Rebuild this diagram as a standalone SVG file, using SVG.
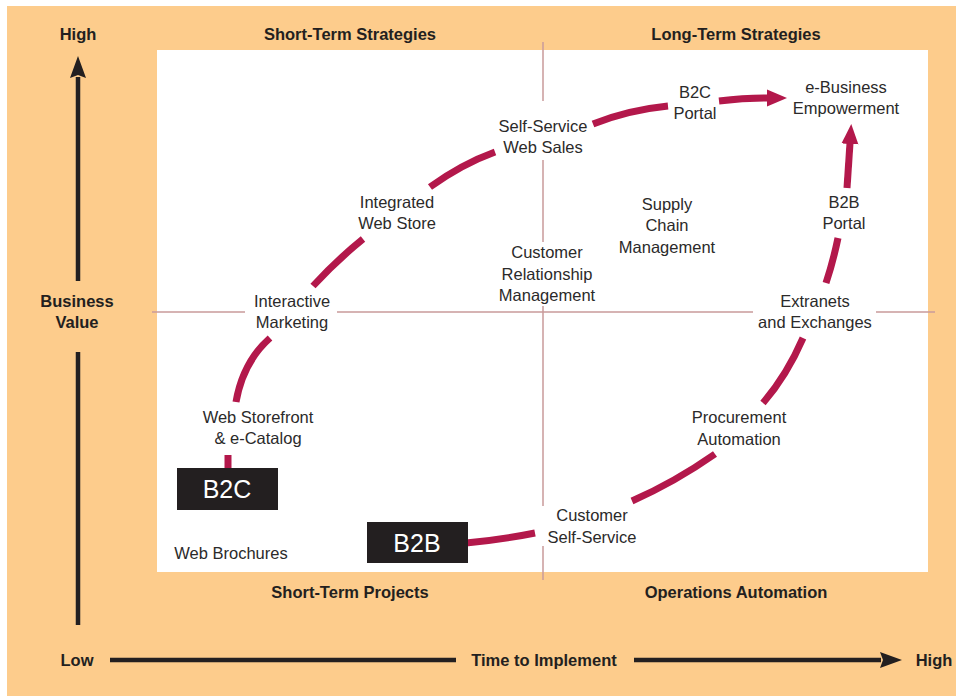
<svg xmlns="http://www.w3.org/2000/svg" width="956" height="696" viewBox="0 0 956 696">
<defs>
<style>
.h{font-family:"Liberation Sans",Arial,sans-serif;font-weight:bold;font-size:16.5px;fill:#231F20;text-anchor:middle}
.t{font-family:"Liberation Sans",Arial,sans-serif;font-size:16.5px;fill:#2B2A2A;text-anchor:middle}
.bx{fill:#231F20}
.bt{font-family:"Liberation Sans",Arial,sans-serif;font-size:25px;fill:#FFFFFF;text-anchor:middle}
.div{stroke:#C99A9A;stroke-width:1.5;fill:none}
.ax{stroke:#231F20;stroke-width:4.5;fill:none}
.c{stroke:#B3184B;stroke-width:7;fill:none}
</style>
<marker id="ra" markerUnits="userSpaceOnUse" viewBox="0 0 20 20" markerWidth="20" markerHeight="20" refX="1" refY="10" orient="auto">
<path d="M0,1.5 L20,10 L0,18.5 z" fill="#B3184B"/>
</marker>
<marker id="ka" markerUnits="userSpaceOnUse" viewBox="0 0 22 18" markerWidth="22" markerHeight="18" refX="1" refY="9" orient="auto">
<path d="M0,1 L22,9 L0,17 L3,9 z" fill="#231F20"/>
</marker>
</defs>

<g id="background">
<rect x="0" y="0" width="956" height="696" fill="#FFFFFF"/>
<rect x="7" y="6" width="949" height="690" fill="#FDCC8C"/>
<rect x="157" y="50" width="771" height="522" fill="#FFFFFF"/>
</g>

<g id="dividers">
<path class="div" d="M543,42 V101 M543,160 V242 M543,306 V506 M543,546 V580"/>
<path class="div" d="M152,312 H245 M337,312 H753 M876,312 H935"/>
</g>

<g id="axes">
<path class="ax" d="M78,281 V77" marker-end="url(#ka)"/>
<path class="ax" d="M78,352 V625"/>
<path class="ax" d="M110,660 H456"/>
<path class="ax" d="M634,660 H881" marker-end="url(#ka)"/>
<text class="h" x="78" y="40">High</text>
<text class="h" x="77" y="307">Business</text>
<text class="h" x="77" y="328">Value</text>
<text class="h" x="77" y="666">Low</text>
<text class="h" x="544" y="666">Time to Implement</text>
<text class="h" x="934" y="666">High</text>
</g>

<g id="quadrant-labels">
<text class="h" x="350" y="40">Short-Term Strategies</text>
<text class="h" x="736" y="40">Long-Term Strategies</text>
<text class="h" x="350" y="598">Short-Term Projects</text>
<text class="h" x="736" y="598">Operations Automation</text>
</g>

<g id="connectors">
<path class="c" d="M228,455 V470"/>
<path class="c" d="M236,402 Q243,362 270,338"/>
<path class="c" d="M313,286 Q337,260 363,239"/>
<path class="c" d="M430,187 Q462,164 495,152"/>
<path class="c" d="M593,124 Q628,110 668,106"/>
<path class="c" d="M719,101 Q745,98 768,98" marker-end="url(#ra)"/>
<path class="c" d="M847,188 L850,143" marker-end="url(#ra)"/>
<path class="c" d="M838,238 Q833,262 826,283"/>
<path class="c" d="M803,338 Q787,375 763,403"/>
<path class="c" d="M715,454 Q675,482 632,501"/>
<path class="c" d="M535,533 Q500,540 466,543"/>
</g>

<g id="node-b2c">
<rect class="bx" x="177" y="468" width="101" height="42"/>
<text class="bt" x="227" y="498">B2C</text>
</g>
<g id="node-b2b">
<rect class="bx" x="367" y="522" width="101" height="41"/>
<text class="bt" x="417" y="552">B2B</text>
</g>
<g id="node-web-brochures">
<text class="t" x="231" y="559">Web Brochures</text>
</g>
<g id="node-web-storefront">
<text class="t" x="258" y="423">Web Storefront</text>
<text class="t" x="258" y="444">&amp; e-Catalog</text>
</g>
<g id="node-interactive-marketing">
<text class="t" x="292" y="307">Interactive</text>
<text class="t" x="292" y="328">Marketing</text>
</g>
<g id="node-integrated-web-store">
<text class="t" x="397" y="208">Integrated</text>
<text class="t" x="397" y="229">Web Store</text>
</g>
<g id="node-self-service-web-sales">
<text class="t" x="543" y="132">Self-Service</text>
<text class="t" x="543" y="153">Web Sales</text>
</g>
<g id="node-b2c-portal">
<text class="t" x="695" y="98">B2C</text>
<text class="t" x="695" y="119">Portal</text>
</g>
<g id="node-e-business">
<text class="t" x="846" y="93">e-Business</text>
<text class="t" x="846" y="114">Empowerment</text>
</g>
<g id="node-b2b-portal">
<text class="t" x="844" y="208">B2B</text>
<text class="t" x="844" y="229">Portal</text>
</g>
<g id="node-supply-chain">
<text class="t" x="667" y="210">Supply</text>
<text class="t" x="667" y="231">Chain</text>
<text class="t" x="667" y="253">Management</text>
</g>
<g id="node-crm">
<text class="t" x="547" y="258">Customer</text>
<text class="t" x="547" y="280">Relationship</text>
<text class="t" x="547" y="301">Management</text>
</g>
<g id="node-extranets">
<text class="t" x="815" y="307">Extranets</text>
<text class="t" x="815" y="328">and Exchanges</text>
</g>
<g id="node-procurement">
<text class="t" x="739" y="423">Procurement</text>
<text class="t" x="739" y="445">Automation</text>
</g>
<g id="node-customer-self-service">
<text class="t" x="592" y="521">Customer</text>
<text class="t" x="592" y="543">Self-Service</text>
</g>
</svg>
